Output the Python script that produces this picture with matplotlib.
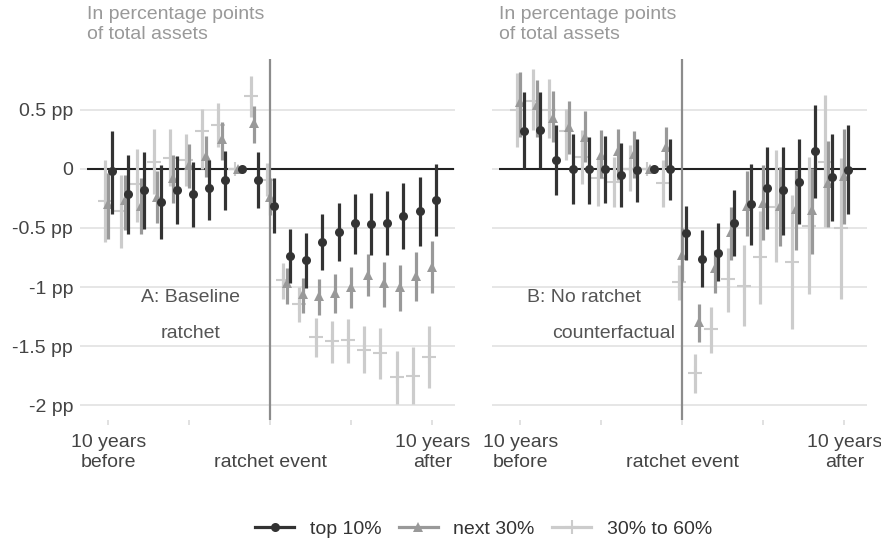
import numpy as np
import matplotlib.pyplot as plt
from matplotlib.lines import Line2D

plt.rcParams['font.family'] = ['Liberation Sans', 'DejaVu Sans']

years = list(range(-10, 11))

# Panel A: baseline ratchet (estimate, lower, upper) in pp of total assets
a_top10 = [-0.02, -0.21, -0.18, -0.28, -0.18, -0.21, -0.16, -0.09, 0.0, -0.09, -0.31,
           -0.74, -0.77, -0.62, -0.53, -0.46, -0.47, -0.46, -0.40, -0.36, -0.26]
a_top10_lo = [-0.38, -0.55, -0.51, -0.59, -0.47, -0.49, -0.43, -0.35, 0.0, -0.33, -0.54,
              -0.97, -1.01, -0.86, -0.78, -0.72, -0.73, -0.73, -0.68, -0.65, -0.57]
a_top10_hi = [0.32, 0.12, 0.14, 0.03, 0.11, 0.06, 0.08, 0.15, 0.0, 0.14, -0.08,
              -0.51, -0.54, -0.38, -0.29, -0.21, -0.20, -0.19, -0.12, -0.07, 0.04]

a_next30 = [-0.30, -0.26, -0.31, -0.24, -0.08, 0.03, 0.11, 0.25, 0.0, 0.39, -0.24,
            -0.97, -1.06, -1.08, -1.05, -1.00, -0.90, -0.97, -1.00, -0.91, -0.83]
a_next30_lo = [-0.59, -0.52, -0.55, -0.46, -0.29, -0.16, -0.07, 0.08, 0.0, 0.22, -0.39,
               -1.14, -1.22, -1.24, -1.22, -1.18, -1.08, -1.17, -1.20, -1.12, -1.05]
a_next30_hi = [-0.03, -0.05, -0.08, -0.02, 0.12, 0.21, 0.28, 0.40, 0.0, 0.53, -0.08,
               -0.84, -0.92, -0.93, -0.89, -0.83, -0.72, -0.79, -0.81, -0.70, -0.61]

a_mid30 = [-0.27, -0.36, -0.13, 0.06, 0.09, 0.08, 0.32, 0.37, 0.0, 0.62, -0.09,
           -0.94, -1.14, -1.42, -1.46, -1.45, -1.53, -1.56, -1.76, -1.75, -1.59]
a_mid30_lo = [-0.62, -0.67, -0.45, -0.21, -0.14, -0.14, 0.00, 0.19, 0.0, 0.44, -0.23,
              -1.10, -1.30, -1.59, -1.64, -1.64, -1.73, -1.78, -1.99, -1.99, -1.86]
a_mid30_hi = [0.08, -0.05, 0.17, 0.34, 0.34, 0.30, 0.51, 0.56, 0.0, 0.79, 0.05,
              -0.80, -1.00, -1.26, -1.29, -1.27, -1.33, -1.35, -1.54, -1.51, -1.33]

# Panel B: no ratchet counterfactual
b_top10 = [0.32, 0.33, 0.08, 0.0, 0.0, 0.0, -0.05, -0.01, 0.0, 0.0, -0.54,
           -0.76, -0.71, -0.46, -0.30, -0.16, -0.18, -0.11, 0.15, -0.07, -0.01]
b_top10_lo = [0.0, 0.01, -0.22, -0.30, -0.30, -0.29, -0.32, -0.28, 0.0, -0.26, -0.77,
              -1.00, -0.95, -0.74, -0.64, -0.51, -0.56, -0.47, -0.25, -0.44, -0.38]
b_top10_hi = [0.65, 0.65, 0.37, 0.30, 0.27, 0.28, 0.22, 0.25, 0.0, 0.25, -0.31,
              -0.52, -0.46, -0.18, 0.04, 0.19, 0.19, 0.25, 0.54, 0.30, 0.37]

b_next30 = [0.57, 0.54, 0.43, 0.36, 0.27, 0.12, 0.15, 0.13, 0.0, 0.19, -0.73,
            -1.30, -0.84, -0.53, -0.31, -0.29, -0.31, -0.34, -0.35, -0.12, -0.06]
b_next30_lo = [0.27, 0.27, 0.23, 0.13, 0.06, -0.08, -0.09, -0.08, 0.0, 0.02, -0.95,
               -1.47, -1.05, -0.77, -0.57, -0.60, -0.65, -0.69, -0.72, -0.49, -0.47]
b_next30_hi = [0.82, 0.75, 0.66, 0.58, 0.49, 0.33, 0.34, 0.32, 0.0, 0.36, -0.50,
               -1.14, -0.69, -0.32, -0.02, 0.03, 0.02, -0.01, 0.01, 0.24, 0.34]

b_mid30 = [0.50, 0.58, 0.50, 0.32, 0.10, -0.08, -0.11, 0.0, 0.0, -0.12, -0.96,
           -1.73, -1.36, -0.93, -0.99, -0.75, -0.32, -0.79, -0.48, 0.06, -0.50]
b_mid30_lo = [0.19, 0.33, 0.26, 0.08, -0.13, -0.31, -0.32, -0.19, 0.0, -0.32, -1.11,
              -1.90, -1.56, -1.21, -1.33, -1.14, -0.79, -1.36, -1.06, -0.49, -1.10]
b_mid30_hi = [0.81, 0.85, 0.76, 0.51, 0.33, 0.10, 0.10, 0.20, 0.0, 0.08, -0.81,
              -1.57, -1.17, -0.67, -0.64, -0.36, 0.16, -0.22, 0.10, 0.63, 0.09]

groups = ['top 10%', 'next 30%', '30% to 60%']
colors = {'top 10%': '#333333', 'next 30%': '#999999', '30% to 60%': '#cccccc'}
markers = {'top 10%': 'o', 'next 30%': '^', '30% to 60%': '+'}
dodge = {'top 10%': 0.22, 'next 30%': 0.0, '30% to 60%': -0.21}
layer = {'top 10%': 6, 'next 30%': 4, '30% to 60%': 3}

y_ticks = [0.5, 0, -0.5, -1, -1.5, -2]
y_labels = ['0.5 pp', '0', '-0.5 pp', '-1 pp', '-1.5 pp', '-2 pp']
x_ticks = [-10, -5, 0, 5, 10]
x_labels = ['10 years\nbefore', '', '\nratchet event', '', '10 years\nafter']

panels = [
    {
        'top 10%': (a_top10, a_top10_lo, a_top10_hi),
        'next 30%': (a_next30, a_next30_lo, a_next30_hi),
        '30% to 60%': (a_mid30, a_mid30_lo, a_mid30_hi),
    },
    {
        'top 10%': (b_top10, b_top10_lo, b_top10_hi),
        'next 30%': (b_next30, b_next30_lo, b_next30_hi),
        '30% to 60%': (b_mid30, b_mid30_lo, b_mid30_hi),
    },
]
notes = [
    [('A: Baseline', -4.9), ('ratchet', -4.9)],
    [('B: No ratchet', -6.1), ('counterfactual', -4.25)],
]

W, H = 881, 543
fig = plt.figure(figsize=(W / 100, H / 100), dpi=100)
ax_left = [80, 492]

for i, data in enumerate(panels):
    ax = fig.add_axes([ax_left[i] / W, 1 - 420 / H, 375 / W, 361 / H])
    ax.set_xlim(-11.75, 11.4)
    ax.set_ylim(-2.127, 0.932)
    for s in ax.spines.values():
        s.set_visible(False)

    ax.set_yticks(y_ticks)
    ax.set_yticklabels(y_labels if i == 0 else [])
    ax.yaxis.grid(True, color='#e6e6e6', lw=1.4, zorder=0)
    ax.set_axisbelow(True)
    ax.tick_params(axis='y', length=0, pad=5, labelsize=14, labelcolor='#444444')

    ax.set_xticks(x_ticks)
    ax.set_xticklabels(x_labels)
    ax.tick_params(axis='x', length=3.6, width=1.1, color='#d9d9d9', pad=6.5,
                   labelsize=14, labelcolor='#444444')
    for lab in ax.get_xticklabels():
        lab.set_linespacing(1.22)

    ax.hlines(0, -11.3, 11.35, color='#222222', lw=1.5, zorder=1)
    ax.axvline(0, color='#8c8c8c', lw=1.6, zorder=5)

    for g in groups[::-1]:
        est, lo, hi = data[g]
        xs = np.array(years) + dodge[g]
        ax.vlines(xs, lo, hi, color=colors[g], lw=2.3, zorder=layer[g])
        if markers[g] == '+':
            ax.plot(xs, est, ls='none', marker='+', ms=10, mew=1.5,
                    color=colors[g], zorder=layer[g])
        else:
            ms = 6.5 if markers[g] == 'o' else 7
            ax.plot(xs, est, ls='none', marker=markers[g], ms=ms, mew=0,
                    color=colors[g], zorder=layer[g])

    for (txt, xpos), ypos in zip(notes[i], [-1.09, -1.39]):
        ax.text(xpos, ypos, txt, ha='center', va='center', fontsize=14,
                color='#555555', zorder=7)

    fig.text((ax_left[i] + 7) / W, 1 - 19 / H, 'In percentage points',
             fontsize=14, color='#999999', va='baseline')
    fig.text((ax_left[i] + 7) / W, 1 - 39 / H, 'of total assets',
             fontsize=14, color='#999999', va='baseline')

handles = []
for g in groups:
    if markers[g] == '+':
        h = Line2D([], [], color=colors[g], lw=2.3, marker='+', ms=10, mew=1.5)
    else:
        h = Line2D([], [], color=colors[g], lw=2.3, marker=markers[g],
                   ms=6.5 if markers[g] == 'o' else 7, mew=0)
    handles.append(h)
fig.legend(handles, groups, loc='center', bbox_to_anchor=(0.549, 1 - 529 / H),
           ncol=3, frameon=False, fontsize=14, handlelength=2.0,
           handletextpad=0.8, columnspacing=0.9, labelcolor='#333333')

fig.savefig('out.png', dpi=100)
